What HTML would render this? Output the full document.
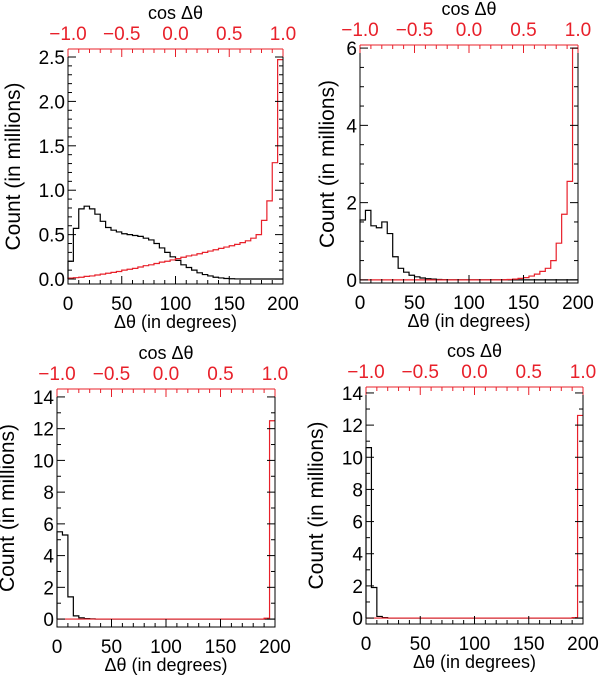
<!DOCTYPE html>
<html><head><meta charset="utf-8">
<style>
html,body{margin:0;padding:0;background:#fff;}
svg{display:block;font-family:"Liberation Sans",Arial,sans-serif;}
</style></head>
<body>
<svg id="chart" width="600" height="679" viewBox="0 0 600 679" xmlns="http://www.w3.org/2000/svg"></svg>
<script>
// Data (counts in millions), 5-degree bins from 0 to 200 degrees
const binWidthDeg = 5;
const xTicks = [0, 50, 100, 150, 200];
const xTickLabels = ["0", "50", "100", "150", "200"];
const cosTicks = [-1.0, -0.5, 0.0, 0.5, 1.0];
const cosTickLabels = ["\u22121.0", "\u22120.5", "0.0", "0.5", "1.0"];

const p1Black = [0.2,0.57,0.79,0.82,0.79,0.73,0.65,0.58,0.55,0.53,0.51,0.5,0.49,0.48,0.46,0.44,0.4,0.35,0.3,0.25,0.21,0.16,0.13,0.1,0.07,0.05,0.035,0.02,0.012,0.006,0.003,0.001,0,0,0,0,0,0,0,0];
const p1Red = [0.01,0.015,0.02,0.03,0.035,0.045,0.055,0.065,0.075,0.085,0.1,0.11,0.12,0.135,0.15,0.16,0.175,0.19,0.2,0.215,0.23,0.245,0.26,0.27,0.285,0.3,0.315,0.33,0.345,0.36,0.375,0.39,0.41,0.43,0.46,0.5,0.66,0.88,1.31,2.47];
const p1YTicks = [0.0,0.5,1.0,1.5,2.0,2.5];
const p1YLabels = ["0.0","0.5","1.0","1.5","2.0","2.5"];

const p2Black = [1.55,1.8,1.4,1.35,1.5,1.2,0.6,0.3,0.2,0.12,0.08,0.05,0.03,0.02,0.01,0.005,0.002,0,0,0,0,0,0,0,0,0,0,0,0,0,0,0,0,0,0,0,0,0,0,0];
const p2Red = [0,0,0,0,0,0,0,0,0,0,0,0,0,0,0,0,0,0,0,0,0,0,0,0,0,0,0.005,0.01,0.02,0.04,0.06,0.1,0.15,0.22,0.3,0.5,0.95,1.7,2.55,6.0];
const p2YTicks = [0,2,4,6];
const p2YLabels = ["0","2","4","6"];

const p3Black = [5.5,5.3,1.4,0.2,0.08,0.03,0.01,0,0,0,0,0,0,0,0,0,0,0,0,0,0,0,0,0,0,0,0,0,0,0,0,0,0,0,0,0,0,0,0,0];
const p3Red = [0,0,0,0,0,0,0,0,0,0,0,0,0,0,0,0,0,0,0,0,0,0,0,0,0,0,0,0,0,0,0,0,0,0,0,0,0,0,0.05,12.5];
const p3YTicks = [0,2,4,6,8,10,12,14];
const p3YLabels = ["0","2","4","6","8","10","12","14"];

const p4Black = [10.6,1.9,0.1,0.03,0,0,0,0,0,0,0,0,0,0,0,0,0,0,0,0,0,0,0,0,0,0,0,0,0,0,0,0,0,0,0,0,0,0,0,0];
const p4Red = [0,0,0,0,0,0,0,0,0,0,0,0,0,0,0,0,0,0,0,0,0,0,0,0,0,0,0,0,0,0,0,0,0,0,0,0,0,0,0.03,12.6];
const p4YTicks = [0,2,4,6,8,10,12,14];
const p4YLabels = ["0","2","4","6","8","10","12","14"];

const NS = "http://www.w3.org/2000/svg";
const svg = document.getElementById("chart");
function mk(tag, attrs, parent){
  const e = document.createElementNS(NS, tag);
  for (const k in attrs) e.setAttribute(k, attrs[k]);
  (parent||svg).appendChild(e);
  return e;
}

function panel(id, box, yMin, yMax, black, red, yTicks, yLabels, yMinorStep, ylabX){
  const g = mk("g", {});
  
  
  const {x0,x1,y0,y1} = box;
  const xs = v => x0 + (v/200)*(x1-x0);
  const xc = c => x0 + ((c+1)/2)*(x1-x0);
  const ys = v => y1 - (v-yMin)/(yMax-yMin)*(y1-y0);

  function hist(vals, color, name){
    let d = "";
    vals.forEach((v,i)=>{
      const a = xs(i*binWidthDeg), b = xs((i+1)*binWidthDeg), y = ys(v);
      d += (i===0 ? "M"+a+","+ys(0)+" L"+a+","+y : " L"+a+","+y) + " L"+b+","+y;
    });
    const p = mk("path", {d:d, fill:"none", stroke:color, "stroke-width":1.2}, g);
    
    
  }
  hist(black, "#000", "theta-histogram");
  hist(red, "#e8202a", "cos-histogram");

  const fl = mk("path", {d:`M${x0},${y0} L${x0},${y1} L${x1},${y1} L${x1},${y0}`, fill:"none", stroke:"#000", "stroke-width":1}, g);
  
  
  const ft = mk("line", {x1:x0, y1:y0, x2:x1, y2:y0, stroke:"#e8202a", "stroke-width":1}, g);
  
  

  for (let v=0; v<=200; v+=10){
    const len = v%50===0 ? 8 : 4, x = xs(v);
    mk("line",{x1:x,y1:y1,x2:x,y2:y1-len,stroke:"#000"},g);
  }
  xTicks.forEach((v,i)=>{
    const t = mk("text",{x:xs(v),y:y1+26,"font-size":19,"text-anchor":"middle",fill:"#000"},g);
    t.textContent = xTickLabels[i];
    
    
  });
  for (let k=-10; k<=10; k++){
    const c = k/10, len = k%5===0 ? 8 : 4, x = xc(c);
    mk("line",{x1:x,y1:y0,x2:x,y2:y0+len,stroke:"#e8202a"},g);
  }
  cosTicks.forEach((c,i)=>{
    const t = mk("text",{x:xc(c),y:y0-9,"font-size":19,"text-anchor":"middle",fill:"#e8202a"},g);
    t.textContent = cosTickLabels[i];
    
    
  });
  for (let v=yTicks[0]; v<=yMax+1e-9; v+=yMinorStep){
    const major = yTicks.some(t=>Math.abs(t-v)<1e-6);
    const len = major?8:4, y = ys(v);
    mk("line",{x1:x0,y1:y,x2:x0+len,y2:y,stroke:"#000"},g);
    mk("line",{x1:x1,y1:y,x2:x1-len,y2:y,stroke:"#000"},g);
  }
  yTicks.forEach((v,i)=>{
    const t = mk("text",{x:x0-3,y:ys(v)+7,"font-size":19,"text-anchor":"end",fill:"#000"},g);
    t.textContent = yLabels[i];
    
    
  });
  const xt = mk("text",{x:(x0+x1)/2,y:y1+44,"font-size":18,"text-anchor":"middle",fill:"#000"},g);
  xt.textContent = "\u0394\u03b8 (in degrees)";
  
  
  const tt = mk("text",{x:(x0+x1)/2,y:y0-30,"font-size":18,"text-anchor":"middle",fill:"#000"},g);
  tt.textContent = "cos \u0394\u03b8";
  
  
  const cy = (y0+y1)/2;
  const yt = mk("text",{x:ylabX,y:cy,"font-size":21,"text-anchor":"middle",fill:"#000",transform:`rotate(-90 ${ylabX} ${cy})`},g);
  yt.textContent = "Count (in millions)";
  
  
}

panel("panel-top-left", {x0:68,x1:283,y0:49,y1:284}, -0.056, 2.59, p1Black, p1Red, p1YTicks, p1YLabels, 0.1, 20);
panel("panel-top-right", {x0:360,x1:578,y0:45,y1:283}, -0.08, 6.08, p2Black, p2Red, p2YTicks, p2YLabels, 0.5, 334);
panel("panel-bottom-left", {x0:57,x1:275,y0:389,y1:627}, -0.5, 14.5, p3Black, p3Red, p3YTicks, p3YLabels, 1, 14);
panel("panel-bottom-right", {x0:366,x1:583,y0:387,y1:624}, -0.37, 14.37, p4Black, p4Red, p4YTicks, p4YLabels, 1, 323);
</script>
</body></html>
